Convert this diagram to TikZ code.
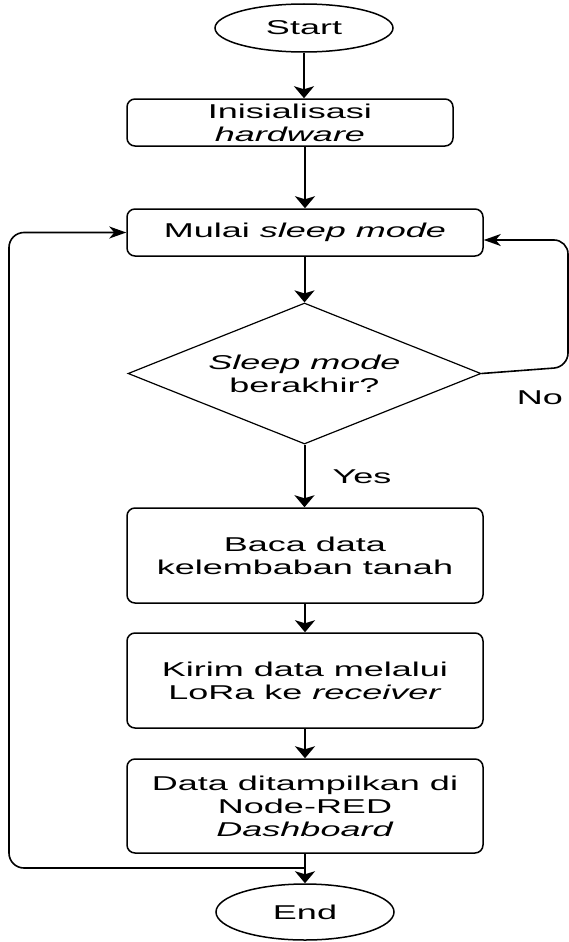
\documentclass[tikz,border=0pt]{standalone}
\usepackage{fontspec}
\setmainfont{Liberation Sans}[FakeStretch=1.8]
\usetikzlibrary{shapes.geometric,arrows.meta}
\begin{document}
\begin{tikzpicture}[x=1pt,y=-1pt,
  txt/.style={font=\fontsize{20}{23}\selectfont},
  proc/.style={txt, draw, line width=1.5pt, rounded corners=8pt, minimum width=356pt, minimum height=47pt, align=center, inner sep=0pt},
  term/.style={txt, draw, ellipse, line width=1.5pt, minimum width=178pt, minimum height=48pt, inner sep=0pt},
  dec/.style={txt, draw, diamond, aspect=2.5, line width=1.2pt, minimum width=353pt, minimum height=141pt, inner sep=0pt, align=center},
  varrow/.style={line width=2pt, -{Stealth[length=12pt,width=20pt,inset=3pt]}},
  harrow/.style={line width=1.6pt, -{Stealth[length=17pt,width=12pt,inset=5pt]}}
]
\fill[white] (0,0) rectangle (569,942);
\useasboundingbox (0,0) rectangle (569,942);

\node[term] (start) at (304,28) {Start};
\node[proc, minimum width=326pt] (b1) at (290,122.5) {Inisialisasi\\\textit{hardware}};
\node[proc] (b2) at (305,232.5) {Mulai \textit{sleep mode}};
\node[dec] (d) at (304.5,373.5) {\textit{Sleep mode}\\berakhir?};
\node[proc, minimum height=95pt] (b3) at (305,555.5) {Baca data\\kelembaban tanah};
\node[proc, minimum height=95pt] (b4) at (305,680.5) {Kirim data melalui\\LoRa ke \textit{receiver}};
\node[proc, minimum height=94pt] (b5) at (305,806) {Data ditampilkan di\\Node-RED\\\textit{Dashboard}};
\node[term, minimum height=56pt] (end) at (305,912) {End};

\node[txt] (yes) at (362,477) {Yes};
\node[txt] (no) at (540,398) {No};

\draw[varrow] (start.south) -- (start.south |- b1.north);
\draw[varrow] (b1.south -| b2.center) -- (b2.north);
\draw[varrow] (b2.south) -- (b2.south -| d.north) -- (d.north);
\draw[varrow] (d.south) -- (d.south |- b3.north);
\draw[varrow] (b3.south) -- (b4.north);
\draw[varrow] (b4.south) -- (b5.north);
\draw[varrow] (b5.south) -- (end.north);

\coordinate (rb) at (568,367);
\coordinate (rc) at (568,240);
\draw[harrow, rounded corners=14pt] (d.east) -- (rb) -- (rc) -- (rc -| b2.east);

\coordinate (j) at (305,868);
\coordinate (lc) at (9,232.5);
\draw[harrow, rounded corners=15pt] (j) -| (lc) -- (b2.west);
\end{tikzpicture}
\end{document}
